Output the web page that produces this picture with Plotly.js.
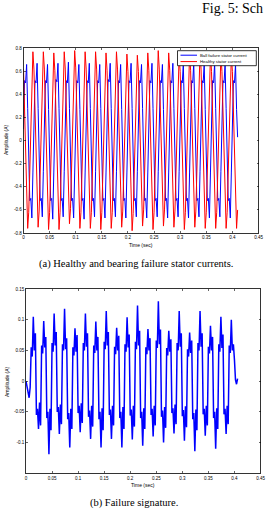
<!DOCTYPE html>
<html>
<head>
<meta charset="utf-8">
<script src="https://cdn.plot.ly/plotly-3.0.1.min.js"></script>
<style>
  html, body { margin: 0; padding: 0; background: #fff; }
  #fig { width: 269px; height: 512px; }
</style>
</head>
<body>
<div id="fig"></div>
<script>
// Sampling of all recorded signals (seconds)
const sampleStart = 0;
const sampleStep = 0.002;

// Healthy stator current (A), one row per 20 ms cycle
const healthyCurrent = [
  0.62, 0.25, -0.22, -0.60, -0.76, -0.62, -0.24, 0.22, 0.60, 0.77,
  0.62, 0.25, -0.22, -0.60, -0.75, -0.61, -0.23, 0.22, 0.60, 0.77,
  0.62, 0.24, -0.23, -0.61, -0.77, -0.62, -0.24, 0.21, 0.59, 0.76,
  0.61, 0.24, -0.23, -0.61, -0.77, -0.62, -0.24, 0.22, 0.60, 0.77,
  0.62, 0.25, -0.21, -0.58, -0.72, -0.59, -0.22, 0.23, 0.61, 0.78,
  0.63, 0.25, -0.22, -0.60, -0.76, -0.62, -0.24, 0.22, 0.60, 0.77,
  0.62, 0.25, -0.22, -0.60, -0.76, -0.62, -0.24, 0.22, 0.60, 0.77,
  0.62, 0.24, -0.23, -0.61, -0.77, -0.62, -0.24, 0.21, 0.59, 0.76,
  0.61, 0.24, -0.22, -0.60, -0.76, -0.62, -0.24, 0.22, 0.60, 0.77,
  0.62, 0.24, -0.22, -0.60, -0.75, -0.61, -0.23, 0.21, 0.58, 0.75,
  0.60, 0.23, -0.23, -0.62, -0.78, -0.63, -0.24, 0.21, 0.58, 0.74,
  0.60, 0.23, -0.22, -0.59, -0.74, -0.60, -0.23, 0.22, 0.60, 0.76,
  0.61, 0.24, -0.23, -0.61, -0.77, -0.62, -0.24, 0.22, 0.61, 0.78,
  0.62, 0.24, -0.22, -0.59, -0.74, -0.60, -0.23, 0.22, 0.60, 0.76,
  0.61, 0.23, -0.22, -0.60, -0.75, -0.61, -0.23, 0.21, 0.58, 0.74,
  0.60, 0.23, -0.23, -0.61, -0.77, -0.62, -0.24, 0.22, 0.60, 0.76,
  0.61, 0.24, -0.22, -0.60, -0.75, -0.61, -0.23, 0.22, 0.60, 0.77,
  0.62, 0.24, -0.22, -0.60, -0.76, -0.62, -0.24, 0.21, 0.59, 0.75,
  0.60, 0.23, -0.22, -0.60, -0.76, -0.62, -0.24, 0.21, 0.59, 0.75,
  0.60, 0.23, -0.23, -0.61, -0.76, -0.62, -0.24, 0.21, 0.58, 0.74,
  0.60, 0.23, -0.23, -0.61, -0.76, -0.60
];

// Stator current with a ball bearing failure (A)
const ballFailureCurrent = [
  0.10, 0.52, 0.50, 0.66, 0.28, -0.12, -0.52, -0.50, -0.67, -0.28,
  0.12, 0.52, 0.50, 0.67, 0.28, -0.12, -0.52, -0.50, -0.66, -0.27,
  0.12, 0.52, 0.50, 0.66, 0.27, -0.12, -0.52, -0.50, -0.68, -0.28,
  0.12, 0.53, 0.51, 0.67, 0.28, -0.12, -0.52, -0.50, -0.66, -0.27,
  0.12, 0.52, 0.50, 0.68, 0.28, -0.12, -0.52, -0.50, -0.67, -0.28,
  0.12, 0.52, 0.50, 0.66, 0.27, -0.12, -0.52, -0.50, -0.68, -0.28,
  0.12, 0.52, 0.50, 0.67, 0.28, -0.12, -0.52, -0.50, -0.66, -0.27,
  0.12, 0.52, 0.50, 0.66, 0.28, -0.12, -0.52, -0.50, -0.67, -0.28,
  0.12, 0.53, 0.51, 0.67, 0.28, -0.12, -0.52, -0.50, -0.66, -0.27,
  0.12, 0.52, 0.50, 0.66, 0.27, -0.12, -0.52, -0.50, -0.67, -0.28,
  0.12, 0.52, 0.50, 0.67, 0.28, -0.12, -0.52, -0.50, -0.66, -0.27,
  0.12, 0.52, 0.50, 0.66, 0.28, -0.12, -0.52, -0.50, -0.67, -0.28,
  0.12, 0.52, 0.50, 0.67, 0.28, -0.12, -0.52, -0.50, -0.66, -0.27,
  0.12, 0.52, 0.50, 0.66, 0.27, -0.12, -0.52, -0.50, -0.67, -0.28,
  0.12, 0.52, 0.50, 0.67, 0.28, -0.12, -0.52, -0.50, -0.66, -0.27,
  0.12, 0.52, 0.50, 0.66, 0.28, -0.12, -0.52, -0.50, -0.67, -0.28,
  0.12, 0.52, 0.50, 0.67, 0.28, -0.12, -0.52, -0.50, -0.66, -0.27,
  0.12, 0.52, 0.50, 0.66, 0.27, -0.12, -0.52, -0.50, -0.67, -0.28,
  0.12, 0.52, 0.50, 0.67, 0.28, -0.12, -0.52, -0.50, -0.66, -0.27,
  0.12, 0.52, 0.50, 0.66, 0.28, -0.12, -0.52, -0.50, -0.67, -0.28,
  0.12, 0.52, 0.50, 0.66, 0.27, 0.03
];

// Failure signature (A)
const failureSignature = [
  0.000, -0.008, -0.015, -0.027, -0.010,
  0.055, 0.040, 0.105, 0.050, 0.078, -0.055, -0.045, -0.078, -0.035, -0.072,
  0.058, 0.045, 0.098, 0.055, 0.072, -0.060, -0.050, -0.119, -0.045, -0.080,
  0.062, 0.048, 0.110, 0.058, 0.080, -0.050, -0.042, -0.086, -0.038, -0.070,
  0.060, 0.050, 0.118, 0.052, 0.070, -0.062, -0.052, -0.108, -0.045, -0.078,
  0.055, 0.042, 0.086, 0.048, 0.075, -0.052, -0.040, -0.083, -0.036, -0.068,
  0.062, 0.050, 0.110, 0.056, 0.078, -0.058, -0.048, -0.094, -0.040, -0.074,
  0.058, 0.046, 0.097, 0.050, 0.072, -0.062, -0.050, -0.108, -0.044, -0.080,
  0.064, 0.052, 0.114, 0.058, 0.080, -0.055, -0.046, -0.094, -0.040, -0.072,
  0.056, 0.044, 0.087, 0.050, 0.074, -0.060, -0.050, -0.108, -0.042, -0.078,
  0.060, 0.048, 0.104, 0.055, 0.076, -0.056, -0.046, -0.095, -0.040, -0.074,
  0.064, 0.052, 0.123, 0.058, 0.082, -0.060, -0.050, -0.105, -0.044, -0.078,
  0.055, 0.044, 0.085, 0.050, 0.070, -0.055, -0.045, -0.090, -0.040, -0.072,
  0.066, 0.054, 0.130, 0.060, 0.084, -0.058, -0.048, -0.100, -0.042, -0.076,
  0.054, 0.042, 0.082, 0.048, 0.068, -0.052, -0.044, -0.085, -0.038, -0.070,
  0.062, 0.050, 0.114, 0.056, 0.078, -0.057, -0.047, -0.097, -0.041, -0.075,
  0.052, 0.040, 0.079, 0.046, 0.066, -0.062, -0.052, -0.114, -0.046, -0.080,
  0.062, 0.050, 0.114, 0.056, 0.078, -0.054, -0.045, -0.089, -0.040, -0.072,
  0.056, 0.045, 0.090, 0.050, 0.072, -0.060, -0.050, -0.110, -0.044, -0.078,
  0.060, 0.048, 0.105, 0.054, 0.076, -0.054, -0.045, -0.086, -0.040, -0.070,
  0.058, 0.046, 0.100, 0.050, 0.060, 0.035, 0.002, -0.005, 0.004
];

// Tick positions and labels
const timeTicks = [0, 0.05, 0.1, 0.15, 0.2, 0.25, 0.3, 0.35, 0.4, 0.45];
const timeTickText = ["0", "0.05", "0.1", "0.15", "0.2", "0.25", "0.3", "0.35", "0.4", "0.45"];
const currentTicks = [0.8, 0.6, 0.4, 0.2, 0, -0.2, -0.4, -0.6, -0.8];
const currentTickText = ["0.8", "0.6", "0.4", "0.2", "0", "-0.2", "-0.4", "-0.6", "-0.8"];
const signatureTicks = [0.15, 0.1, 0.05, 0, -0.05, -0.1];
const signatureTickText = ["0.15", "0.1", "0.05", "0", "-0.05", "-0.1"];

const legendNames = ["Ball failure stator current", "Healthy stator current"];
const topCaption = "(a) Healthy and bearing failure stator currents.";
const bottomCaption = "(b) Failure signature.";

const W = 269, H = 512;
const px = v => v / W;
const py = v => 1 - v / H;

const tickFont = { family: "Liberation Sans, Arial, sans-serif", size: 4.5, color: "#000" };

function axisStyle(extra) {
  return Object.assign({
    showline: true, linecolor: "#000", linewidth: 0.8, mirror: "allticks",
    ticks: "inside", ticklen: 2, tickwidth: 0.6, tickcolor: "#000",
    showgrid: false, zeroline: false, tickfont: tickFont, tickmode: "array",
    fixedrange: true
  }, extra);
}

const traces = [
  {
    x0: sampleStart, dx: sampleStep, y: ballFailureCurrent,
    type: "scatter", mode: "lines", name: legendNames[0],
    line: { color: "#0000ff", width: 1 }, xaxis: "x", yaxis: "y"
  },
  {
    x0: sampleStart, dx: sampleStep, y: healthyCurrent,
    type: "scatter", mode: "lines", name: legendNames[1],
    line: { color: "#ff0000", width: 1 }, xaxis: "x", yaxis: "y"
  },
  {
    x0: sampleStart, dx: sampleStep, y: failureSignature,
    type: "scatter", mode: "lines", name: "Failure signature",
    line: { color: "#0000ff", width: 1.5 }, xaxis: "x2", yaxis: "y2"
  }
];

const labelFont = { family: "Liberation Sans, Arial, sans-serif", size: 5, color: "#000" };
const captionFont = { family: "Liberation Serif, Times New Roman, serif", size: 10.5, color: "#000" };
const legendFont = { family: "Liberation Sans, Arial, sans-serif", size: 4.3, color: "#000" };

const annotations = [
  { text: "Amplitude (A)", x: px(6), y: py(140), textangle: -90, font: labelFont },
  { text: "Time (sec)", x: px(141), y: py(245), font: labelFont },
  { text: "Amplitude (A)", x: px(7), y: py(382), textangle: -90, font: labelFont },
  { text: "Time (sec)", x: px(143), y: py(485), font: labelFont },
  { text: topCaption, x: px(136), y: py(264), font: captionFont },
  { text: bottomCaption, x: px(134), y: py(503), font: captionFont },
  { text: "Fig. 5: Sch", x: px(201), y: py(-0.5), xanchor: "left", yanchor: "top",
    font: { family: "Liberation Serif, Times New Roman, serif", size: 14, color: "#000" } },
  { text: legendNames[0], x: px(198.5), y: py(55.2), xanchor: "left", font: legendFont },
  { text: legendNames[1], x: px(198.5), y: py(61.6), xanchor: "left", font: legendFont }
].map(a => Object.assign({ xref: "paper", yref: "paper", showarrow: false,
  xanchor: "center", yanchor: "middle", borderpad: 0 }, a));

const shapes = [
  { type: "rect", xref: "paper", yref: "paper", x0: px(177.5), x1: px(256.3), y0: py(65.7), y1: py(50.7),
    fillcolor: "#fff", line: { color: "#000", width: 0.8 } },
  { type: "line", xref: "paper", yref: "paper", x0: px(180.5), x1: px(197), y0: py(55.2), y1: py(55.2),
    line: { color: "#0000ff", width: 1 } },
  { type: "line", xref: "paper", yref: "paper", x0: px(180.5), x1: px(197), y0: py(61.6), y1: py(61.6),
    line: { color: "#ff0000", width: 1 } }
];

const layout = {
  width: W, height: H,
  margin: { l: 0, r: 0, t: 0, b: 0, pad: 0 },
  paper_bgcolor: "#fff", plot_bgcolor: "#fff",
  showlegend: false,
  xaxis: axisStyle({ domain: [px(23.5), px(258.5)], anchor: "y", range: [0, 0.45],
    tickvals: timeTicks, ticktext: timeTickText }),
  yaxis: axisStyle({ domain: [py(233), py(48.3)], anchor: "x", range: [-0.8, 0.8],
    tickvals: currentTicks, ticktext: currentTickText }),
  xaxis2: axisStyle({ domain: [px(26), px(260.5)], anchor: "y2", range: [0, 0.45],
    tickvals: timeTicks, ticktext: timeTickText }),
  yaxis2: axisStyle({ domain: [py(473.3), py(289)], anchor: "x2", range: [-0.15, 0.15],
    tickvals: signatureTicks, ticktext: signatureTickText }),
  annotations: annotations,
  shapes: shapes
};

Plotly.newPlot("fig", traces, layout, { staticPlot: true, displayModeBar: false });
</script>
</body>
</html>
